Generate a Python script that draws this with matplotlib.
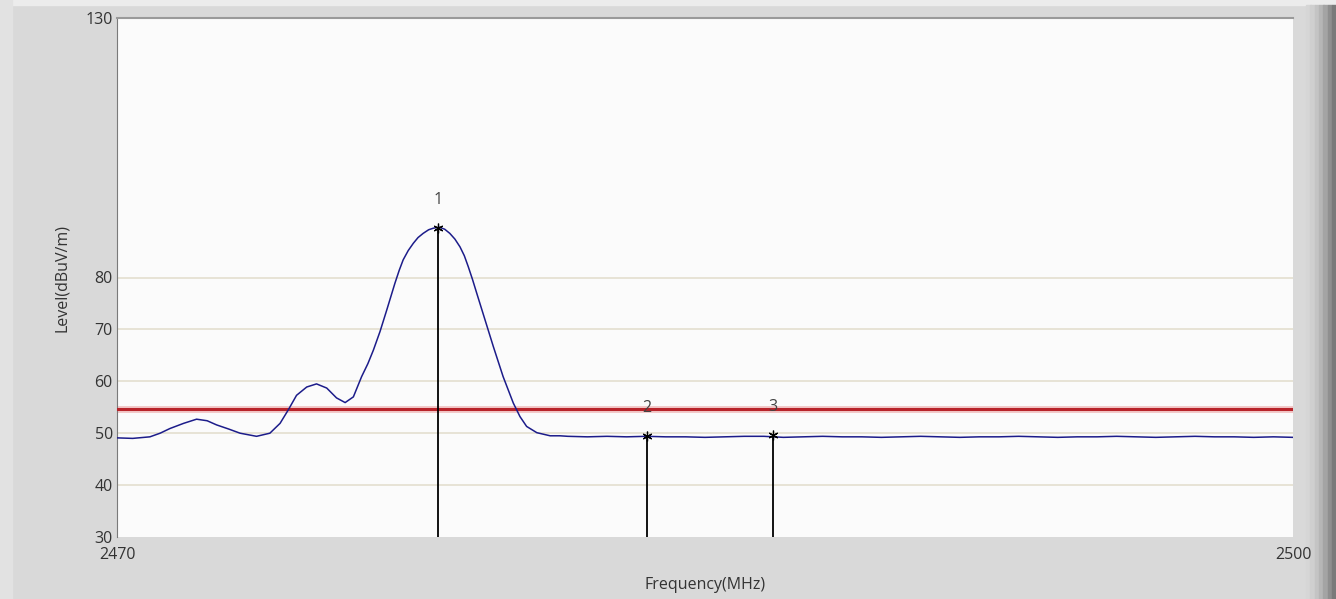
import numpy as np
import matplotlib
matplotlib.use("Agg")
import matplotlib.pyplot as plt
from matplotlib.patches import Rectangle

# ==================================================
# DATA
# ==================================================
# rising part + main peak
freq_curve = [
    2470.0, 2470.4, 2470.84, 2471.1, 2471.35, 2471.7, 2472.03, 2472.3, 2472.54,
    2472.85, 2473.14, 2473.56, 2473.9, 2474.16, 2474.37, 2474.58, 2474.84,
    2475.09, 2475.35, 2475.6, 2475.82, 2476.03, 2476.24, 2476.4, 2476.54,
    2476.71, 2476.88, 2477.09, 2477.2, 2477.3, 2477.43, 2477.56, 2477.68,
    2477.81, 2477.95, 2478.07, 2478.22, 2478.36, 2478.49, 2478.62, 2478.75,
    2478.86, 2478.96, 2479.07, 2479.18, 2479.39, 2479.6, 2479.85, 2480.11,
    2480.28, 2480.45, 2480.71, 2481.05, 2481.3,
]
level_curve = [
    49.1, 49.0, 49.3, 50.0, 50.9, 51.9, 52.7, 52.4, 51.6,
    50.8, 50.0, 49.4, 50.0, 51.9, 54.5, 57.3, 58.9,
    59.5, 58.7, 56.8, 55.9, 57.0, 60.9, 63.4, 66.0,
    69.6, 73.7, 78.9, 81.4, 83.4, 85.2, 86.6, 87.7,
    88.5, 89.2, 89.5, 89.7, 89.3, 88.5, 87.4, 85.9,
    84.2, 82.1, 79.6, 76.9, 71.8, 66.7, 60.9, 55.8,
    53.2, 51.3, 50.1, 49.5, 49.5,
]
# flat noise floor
freq_flat = [
    2481.5, 2482.0, 2482.5, 2483.0, 2483.5, 2484.0, 2484.5, 2485.0, 2485.5,
    2486.0, 2486.5, 2487.0, 2487.5, 2488.0, 2488.5, 2489.0, 2489.5, 2490.0,
    2490.5, 2491.0, 2491.5, 2492.0, 2492.5, 2493.0, 2493.5, 2494.0, 2494.5,
    2495.0, 2495.5, 2496.0, 2496.5, 2497.0, 2497.5, 2498.0, 2498.5, 2499.0,
    2499.5, 2500.0,
]
level_flat = [
    49.4, 49.3, 49.4, 49.3, 49.4, 49.3, 49.3, 49.2, 49.3,
    49.4, 49.4, 49.2, 49.3, 49.4, 49.3, 49.3, 49.2, 49.3,
    49.4, 49.3, 49.2, 49.3, 49.3, 49.4, 49.3, 49.2, 49.3,
    49.3, 49.4, 49.3, 49.2, 49.3, 49.4, 49.3, 49.3, 49.2,
    49.3, 49.2,
]

limit_level = 54.6

marker_ids = ["1", "2", "3"]
marker_freq = [2478.19, 2483.52, 2486.73]
marker_level = [89.6, 49.5, 49.6]

y_ticks = [30, 40, 50, 60, 70, 80, 130]
grid_levels = [40, 50, 60, 70, 80]
x_ticks = [2470, 2500]

# ==================================================
# PLOT
# ==================================================
plt.rcParams["font.family"] = ["Open Sans", "DejaVu Sans"]

W, H = 1336, 599
fig = plt.figure(figsize=(W / 100, H / 100), dpi=100, facecolor="#d9d9d9")

# window frame: light top strip, light left edge, dark right bevel
fig.patches.append(Rectangle((0, 1 - 5 / H), 1, 5 / H, transform=fig.transFigure,
                             color="#ececec", zorder=-1))
fig.patches.append(Rectangle((0, 0), 12 / W, 1, transform=fig.transFigure,
                             color="#e2e2e2", zorder=-1))
shades = ["#d6d6d6", "#cfcfcf", "#c4c4c4", "#b6b6b6", "#a4a4a4", "#8f8f8f", "#7a7a7a"]
for i, c in enumerate(shades):
    fig.patches.append(Rectangle(((1306 + i * 4.3) / W, 0), 4.8 / W, 1 - 5 / H,
                                 transform=fig.transFigure, color=c, zorder=-1))

ax = fig.add_axes([117 / W, 62 / H, (1293 - 117) / W, (537 - 18) / H])
ax.set_facecolor("#fbfbfb")

for g in grid_levels:
    ax.axhline(g, color="#e3dfcf", linewidth=1.2, zorder=1)

# limit line with a soft glow
ax.axhline(limit_level, color="#f2c8c8", linewidth=5, zorder=2)
ax.axhline(limit_level, color="#b8232a", linewidth=2.2, zorder=3)

ax.plot(freq_curve + freq_flat, level_curve + level_flat,
        color="#1c1c8a", linewidth=1.1, zorder=4)

# markers
ax.vlines(marker_freq, 30, marker_level, color="black", linewidth=1.3, zorder=5)
ax.plot(marker_freq, marker_level, linestyle="none", marker=(6, 2, 0),
        markersize=7, markeredgewidth=0.9, color="black", zorder=6)
for mid, f, lv in zip(marker_ids, marker_freq, marker_level):
    ax.text(f, lv + 5.4, mid, ha="center", va="center", fontsize=11.5,
            color="#444444", zorder=6)

ax.set_xlim(2470, 2500)
ax.set_ylim(30, 130)
ax.set_yticks(y_ticks)
ax.set_xticks(x_ticks)
ax.tick_params(axis="both", length=0, labelsize=11.5, labelcolor="#333333")
ax.tick_params(axis="y", pad=3)
ax.tick_params(axis="x", pad=7)

ax.set_xlabel("Frequency(MHz)", fontsize=11.5, color="#333333")
ax.set_ylabel("Level(dBuV/m)", fontsize=11.5, color="#333333")
ax.xaxis.set_label_coords(0.5, (537 - 577) / 519)
ax.yaxis.set_label_coords((70 - 117) / 1176, 0.5)

for s in ["right", "bottom"]:
    ax.spines[s].set_visible(False)
ax.spines["left"].set_color("#7a7a7a")
ax.spines["top"].set_color("#9a9a9a")
ax.spines["top"].set_linewidth(1.5)

fig.savefig("out.png", dpi=100, facecolor=fig.get_facecolor())
